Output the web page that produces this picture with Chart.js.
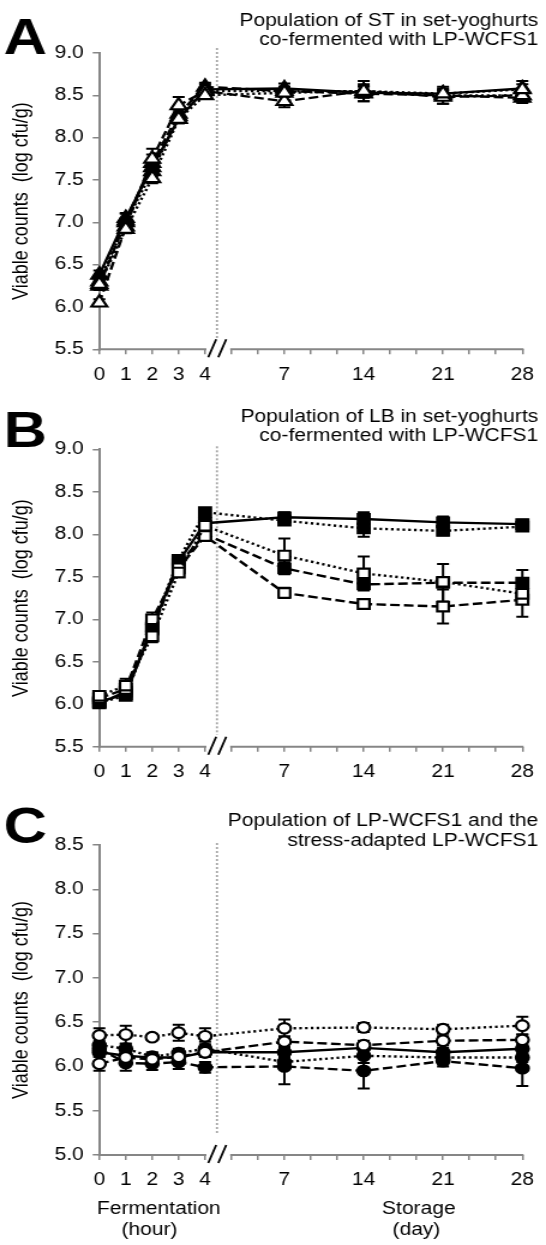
<!DOCTYPE html>
<html><head><meta charset="utf-8">
<script src="https://cdn.jsdelivr.net/npm/chart.js@4.4.1/dist/chart.umd.min.js"></script>
<style>
html,body{margin:0;padding:0;background:#fff;}
#wrap{position:relative;width:546px;height:1245px;overflow:hidden;background:#fff;}
canvas{position:absolute;left:0;}
</style></head><body>
<div id="wrap">
<canvas id="cA" width="455" height="400" style="top:0px;width:546px;height:400px"></canvas>
<canvas id="cB" width="455" height="400" style="top:400px;width:546px;height:400px"></canvas>
<canvas id="cC" width="455" height="445" style="top:800px;width:546px;height:445px"></canvas>
</div>
<script>
// ---------------- data ----------------
const fermentHours = [0, 1, 2, 3, 4];        // fermentation (hour)
const storageDays  = [7, 14, 21, 28];        // storage (day)
const timeLabels   = ['0','1','2','3','4','7','14','21','28'];

// Panel A: population of ST (log cfu/g)
const stSolidFilled     = [6.38, 7.05, 7.65, 8.22, 8.57, 8.58, 8.53, 8.52, 8.58];
const stSolidFilledErr  = [0.05, 0.06, 0.08, 0.05, 0.06, 0.06, 0.10, 0.06, 0.05];
const stDottedFilled    = [6.30, 7.00, 7.60, 8.25, 8.55, 8.55, 8.55, 8.50, 8.50];
const stDottedFilledErr = [0.04, 0.05, 0.06, 0.05, 0.05, 0.05, 0.05, 0.05, 0.04];
const stDashedFilled    = [6.25, 7.02, 7.70, 8.28, 8.60, 8.55, 8.52, 8.50, 8.47];
const stDashedFilledErr = [0.05, 0.08, 0.10, 0.05, 0.05, 0.05, 0.05, 0.10, 0.06];
const stDottedOpen      = [6.27, 6.92, 7.52, 8.22, 8.50, 8.53, 8.55, 8.52, 8.57];
const stDottedOpenErr   = [0.05, 0.05, 0.06, 0.05, 0.04, 0.05, 0.06, 0.05, 0.10];
const stDashedOpen      = [6.05, 6.95, 7.75, 8.38, 8.55, 8.43, 8.55, 8.48, 8.50];
const stDashedOpenErr   = [0.04, 0.05, 0.12, 0.10, 0.05, 0.07, 0.12, 0.08, 0.05];

// Panel B: population of LB (log cfu/g)
const lbSolidFilled     = [6.03, 6.12, 6.90, 7.68, 8.13, 8.20, 8.18, 8.14, 8.12];
const lbSolidFilledErr  = [0.03, 0.05, 0.05, 0.06, 0.05, 0.06, 0.08, 0.07, 0.05];
const lbDottedFilled    = [6.02, 6.10, 6.92, 7.70, 8.26, 8.16, 8.07, 8.04, 8.09];
const lbDottedFilledErr = [0.03, 0.05, 0.05, 0.05, 0.05, 0.05, 0.10, 0.05, 0.05];
const lbDashedFilled    = [6.01, 6.15, 6.88, 7.65, 8.00, 7.60, 7.41, 7.43, 7.43];
const lbDashedFilledErr = [0.03, 0.05, 0.08, 0.05, 0.05, 0.07, 0.05, 0.22, 0.15];
const lbDottedOpen      = [6.10, 6.22, 6.80, 7.55, 8.10, 7.75, 7.54, 7.44, 7.30];
const lbDottedOpenErr   = [0.03, 0.08, 0.07, 0.05, 0.05, 0.20, 0.20, 0.05, 0.05];
const lbDashedOpen      = [6.07, 6.18, 7.00, 7.60, 7.98, 7.31, 7.18, 7.15, 7.23];
const lbDashedOpenErr   = [0.03, 0.05, 0.08, 0.05, 0.05, 0.06, 0.06, 0.20, 0.20];

// Panel C: population of LP-WCFS1 (log cfu/g)
const lpSolidFilled     = [6.16, 6.12, 6.10, 6.10, 6.16, 6.16, 6.21, 6.16, 6.20];
const lpSolidFilledErr  = [0.05, 0.05, 0.05, 0.05, 0.05, 0.05, 0.05, 0.05, 0.05];
const lpDottedFilled    = [6.24, 6.20, 6.11, 6.15, 6.20, 6.05, 6.12, 6.10, 6.10];
const lpDottedFilledErr = [0.05, 0.05, 0.05, 0.05, 0.08, 0.05, 0.08, 0.05, 0.05];
const lpDashedFilled    = [6.20, 6.04, 6.03, 6.05, 5.99, 6.00, 5.95, 6.06, 5.98];
const lpDashedFilledErr = [0.05, 0.09, 0.07, 0.08, 0.06, 0.20, 0.20, 0.06, 0.20];
const lpDottedOpen      = [6.35, 6.36, 6.33, 6.38, 6.34, 6.43, 6.44, 6.42, 6.46];
const lpDottedOpenErr   = [0.08, 0.10, 0.03, 0.09, 0.09, 0.10, 0.05, 0.05, 0.10];
const lpDashedOpen      = [6.03, 6.10, 6.08, 6.11, 6.16, 6.28, 6.24, 6.29, 6.30];
const lpDashedOpenErr   = [0.08, 0.05, 0.05, 0.05, 0.05, 0.06, 0.05, 0.05, 0.06];

// y tick values
const yTicksAB = [5.5, 6.0, 6.5, 7.0, 7.5, 8.0, 8.5, 9.0];
const yTicksC  = [5.0, 5.5, 6.0, 6.5, 7.0, 7.5, 8.0, 8.5];

// titles
const titleA = ['Population of ST in set-yoghurts', 'co-fermented with LP-WCFS1'];
const titleB = ['Population of LB in set-yoghurts', 'co-fermented with LP-WCFS1'];
const titleC = ['Population of LP-WCFS1 and the', 'stress-adapted LP-WCFS1'];
const yTitle = 'Viable counts  (log cfu/g)';

// ---------------- broken x axis mapping ----------------
// hours 0..4 occupy units 0..4, each storage week occupies 3 units after the break
function xPosHour(h) { return h; }
function xPosDay(d) { return 4 + d / 7 * 3; }
const xPositions = fermentHours.map(xPosHour).concat(storageDays.map(xPosDay));
const xLabelMap = new Map(xPositions.map((p, i) => [p, timeLabels[i]]));
const X_MAX = xPosDay(28);
const axisTicks = [];
for (let p = 0; p <= X_MAX; p++) axisTicks.push(p);
const BREAK_LINE = 4.45;

// ---------------- styling ----------------
const FONT = '"Liberation Sans", Arial, Helvetica, sans-serif';
const AXIS_GRAY = '#868686';
const DASH = { solid: [], dashed: [8, 3.5], dotted: [2.2, 2.6] };
const W = 455, LEFT = 82.75, RIGHT = 442.75;

function ds(values, errors, line, filled, shape, radius) {
  return {
    data: values.map((v, i) => ({ x: xPositions[i], y: v })),
    errors: errors,
    borderColor: '#000', borderWidth: 2.4, borderDash: DASH[line],
    pointStyle: shape, pointRadius: radius, pointHoverRadius: radius,
    pointBackgroundColor: filled ? '#000' : '#fff',
    pointBorderColor: '#000', pointBorderWidth: 2.2,
    tension: 0, fill: false, clip: false
  };
}

const decor = {
  id: 'decor',
  beforeDatasetsDraw(chart, args, o) {
    const { ctx, chartArea: ca, scales: { x, y } } = chart;
    ctx.save();
    // dotted separator between fermentation and storage
    const sx = x.getPixelForValue(BREAK_LINE);
    ctx.strokeStyle = '#a8a8a8'; ctx.lineWidth = 1.8; ctx.setLineDash([2, 2]);
    ctx.beginPath(); ctx.moveTo(sx, ca.top - o.sepTop); ctx.lineTo(sx, ca.bottom - o.sepBottom); ctx.stroke();
    ctx.setLineDash([]);
    // broken x axis line
    ctx.strokeStyle = AXIS_GRAY; ctx.lineWidth = 2;
    ctx.beginPath();
    ctx.moveTo(x.getPixelForValue(0) - 1, ca.bottom); ctx.lineTo(x.getPixelForValue(4.05), ca.bottom);
    ctx.moveTo(x.getPixelForValue(4.95), ca.bottom); ctx.lineTo(x.getPixelForValue(X_MAX) + 1, ca.bottom);
    ctx.stroke();
    // break marks //
    ctx.strokeStyle = '#000'; ctx.lineWidth = 1.8;
    ctx.beginPath();
    ctx.moveTo(x.getPixelForValue(4.12), ca.bottom + 8); ctx.lineTo(x.getPixelForValue(4.42), ca.bottom - 10);
    ctx.moveTo(x.getPixelForValue(4.50), ca.bottom + 8); ctx.lineTo(x.getPixelForValue(4.80), ca.bottom - 10);
    ctx.stroke();
    // error bars
    ctx.strokeStyle = '#000'; ctx.lineWidth = 2;
    chart.data.datasets.forEach(d => {
      d.data.forEach((pt, i) => {
        const e = d.errors[i];
        const px = x.getPixelForValue(pt.x);
        const yt = y.getPixelForValue(pt.y + e), yb = y.getPixelForValue(pt.y - e);
        ctx.beginPath();
        ctx.moveTo(px, yt); ctx.lineTo(px, yb);
        ctx.moveTo(px - 5, yt); ctx.lineTo(px + 5, yt);
        ctx.moveTo(px - 5, yb); ctx.lineTo(px + 5, yb);
        ctx.stroke();
      });
    });
    ctx.restore();
  },
  afterDraw(chart, args, o) {
    const ctx = chart.ctx;
    ctx.save();
    ctx.fillStyle = '#000';
    ctx.textBaseline = 'alphabetic';
    ctx.font = `bold 50px ${FONT}`; ctx.textAlign = 'left';
    ctx.fillText(o.letter, 3, o.letterY);
    ctx.font = `17.5px ${FONT}`; ctx.textAlign = 'right';
    o.title.forEach((t, i) => ctx.fillText(t, 448.5, o.titleY[i]));
    if (o.bottom) {
      ctx.textAlign = 'center';
      o.bottom.forEach(b => ctx.fillText(b.text, b.x, b.y));
    }
    ctx.restore();
  }
};

function makePanel(id, H, top, bottom, yMin, yMax, yTicks, datasets, deco) {
  return new Chart(document.getElementById(id), {
    type: 'line',
    data: { datasets },
    plugins: [decor],
    options: {
      responsive: false, animation: false, devicePixelRatio: 1, events: [],
      layout: { padding: { top: top, left: 0, right: W - RIGHT, bottom: 0 }, autoPadding: false },
      plugins: { legend: { display: false }, tooltip: { enabled: false }, decor: deco },
      scales: {
        x: {
          type: 'linear', min: 0, max: X_MAX,
          afterBuildTicks: s => { s.ticks = axisTicks.map(v => ({ value: v })); },
          afterFit: s => { s.height = H - bottom; },
          ticks: {
            autoSkip: false, maxRotation: 0, minRotation: 0, padding: 10, color: '#000',
            font: { family: FONT, size: 17.5 },
            callback: v => xLabelMap.has(v) ? xLabelMap.get(v) : ''
          },
          grid: { drawOnChartArea: false, drawTicks: true, tickLength: 5, color: AXIS_GRAY, lineWidth: 1.5 },
          border: { display: false }
        },
        y: {
          type: 'linear', min: yMin, max: yMax,
          afterBuildTicks: s => { s.ticks = yTicks.map(v => ({ value: v })); },
          afterFit: s => { s.width = LEFT; },
          ticks: {
            padding: 7.5, color: '#000', font: { family: FONT, size: 17.5 },
            callback: v => Number(v).toFixed(1)
          },
          grid: { drawOnChartArea: false, drawTicks: true, tickLength: 5.5, color: AXIS_GRAY, lineWidth: 1.5 },
          border: { display: true, color: AXIS_GRAY, width: 2 },
          title: { display: true, text: yTitle, color: '#000', font: { family: FONT, size: 18 }, padding: { top: 7.5, bottom: 0 } }
        }
      }
    }
  });
}

// open-marker series first so they are drawn on top
makePanel('cA', 400, 53, 349.3, 5.5, 9.0, yTicksAB, [
  ds(stDottedOpen,   stDottedOpenErr,   'dotted', false, 'triangle', 7.5),
  ds(stDashedOpen,   stDashedOpenErr,   'dashed', false, 'triangle', 7.5),
  ds(stSolidFilled,  stSolidFilledErr,  'solid',  true,  'triangle', 7.5),
  ds(stDottedFilled, stDottedFilledErr, 'dotted', true,  'triangle', 7.5),
  ds(stDashedFilled, stDashedFilledErr, 'dashed', true,  'triangle', 7.5)
], { letter: 'A', letterY: 54, title: titleA, titleY: [25.5, 45], sepTop: 5, sepBottom: 11 });

makePanel('cB', 400, 49.3, 346.8, 5.5, 9.0, yTicksAB, [
  ds(lbDottedOpen,   lbDottedOpenErr,   'dotted', false, 'rect', 6.8),
  ds(lbDashedOpen,   lbDashedOpenErr,   'dashed', false, 'rect', 6.8),
  ds(lbSolidFilled,  lbSolidFilledErr,  'solid',  true,  'rect', 6.8),
  ds(lbDottedFilled, lbDottedFilledErr, 'dotted', true,  'rect', 6.8),
  ds(lbDashedFilled, lbDashedFilledErr, 'dashed', true,  'rect', 6.8)
], { letter: 'B', letterY: 46.7, title: titleB, titleY: [21.7, 40.7], sepTop: 3, sepBottom: 12 });

makePanel('cC', 445, 45, 355, 5.0, 8.5, yTicksC, [
  ds(lpDottedOpen,   lpDottedOpenErr,   'dotted', false, 'circle', 5.3),
  ds(lpDashedOpen,   lpDashedOpenErr,   'dashed', false, 'circle', 5.3),
  ds(lpSolidFilled,  lpSolidFilledErr,  'solid',  true,  'circle', 5.3),
  ds(lpDottedFilled, lpDottedFilledErr, 'dotted', true,  'circle', 5.3),
  ds(lpDashedFilled, lpDashedFilledErr, 'dashed', true,  'circle', 5.3)
], { letter: 'C', letterY: 43, title: titleC, titleY: [26, 46], sepTop: 2, sepBottom: 22,
     bottom: [
       { text: 'Fermentation', x: 132.3, y: 414 },
       { text: '(hour)', x: 124.5, y: 435 },
       { text: 'Storage', x: 349, y: 414 },
       { text: '(day)', x: 347, y: 435 }
     ] });
</script>
</body></html>
